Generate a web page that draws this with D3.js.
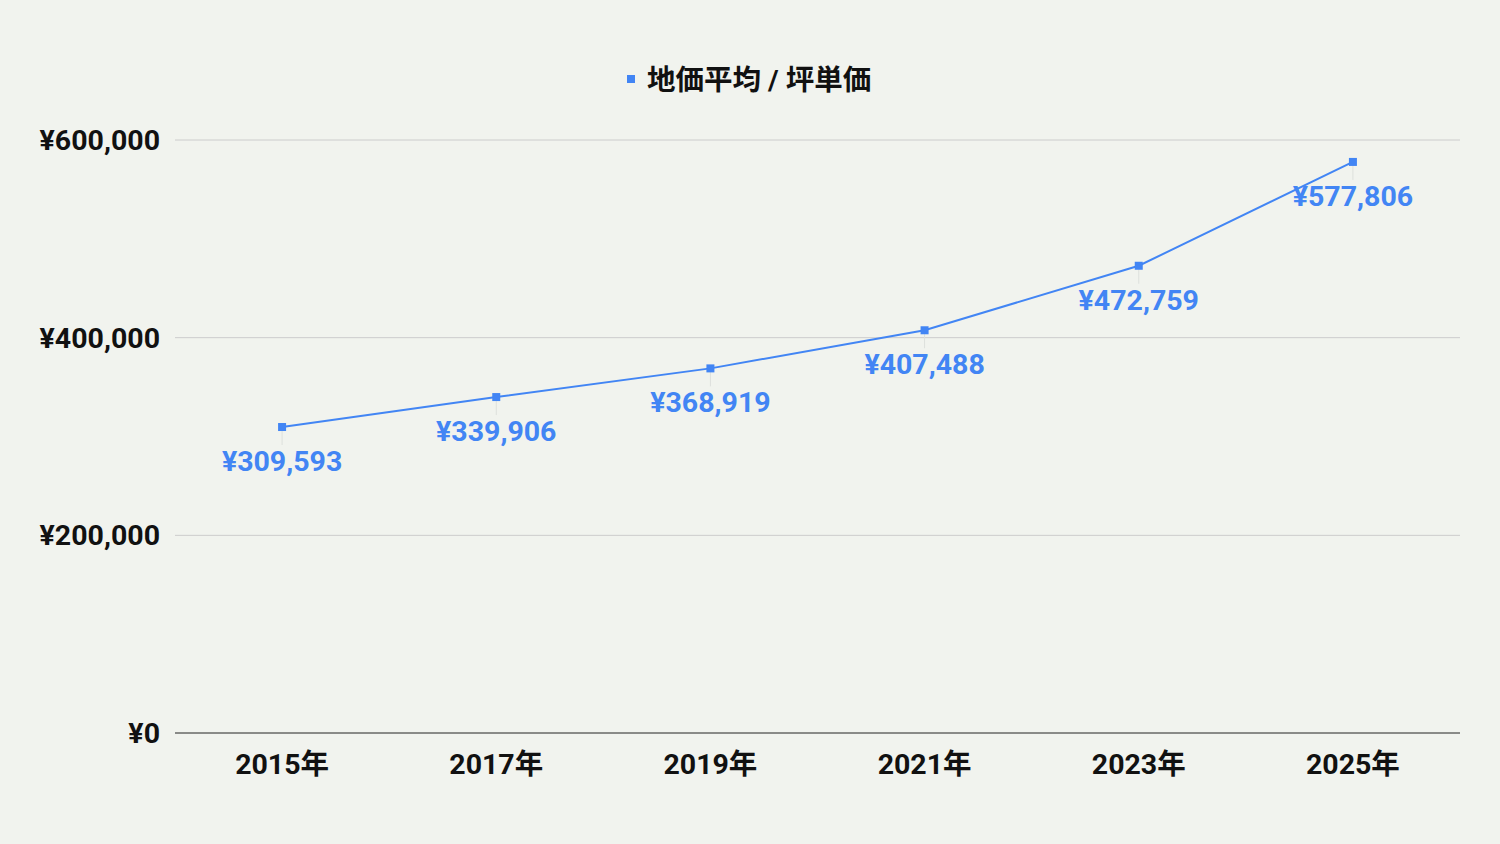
<!DOCTYPE html>
<html><head><meta charset="utf-8">
<script src="https://cdn.jsdelivr.net/npm/d3@7"></script>
<style>body{margin:0;background:#f1f3ee;font-family:Roboto,"Noto Sans CJK JP",sans-serif}</style>
</head><body><svg id="c" width="1500" height="844"></svg>
<script>
const categories=["2015年","2017年","2019年","2021年","2023年","2025年"];
const values=[309593,339906,368919,407488,472759,577806];
const yTicks=[0,200000,400000,600000];
const seriesName="地価平均 / 坪単価";
const color="#4285f4";
const svg=d3.select("#c");
svg.append("rect").attr("width",1500).attr("height",844).attr("fill","#f1f3ee");
const x=d3.scalePoint().domain(categories).range([175,1460]).padding(0.5);
const y=d3.scaleLinear().domain([0,600000]).range([733,140]);
const fmt=v=>"¥"+d3.format(",")(v);
svg.append("g").selectAll("line").data(yTicks.filter(d=>d>0)).join("line")
 .attr("x1",175).attr("x2",1460).attr("y1",d=>y(d)).attr("y2",d=>y(d)).attr("stroke","#cccccc");
svg.append("line").attr("x1",175).attr("x2",1460).attr("y1",y(0)).attr("y2",y(0)).attr("stroke","#222");
svg.append("g").selectAll("text").data(yTicks).join("text")
 .attr("x",160).attr("y",d=>y(d)).attr("dy","0.35em").attr("text-anchor","end")
 .attr("font-size",28.5).attr("font-weight","bold").attr("fill","#111").text(fmt);
svg.append("g").selectAll("text").data(categories).join("text")
 .attr("x",d=>x(d)).attr("y",764).attr("dy","0.35em").attr("text-anchor","middle")
 .attr("font-size",28.5).attr("font-weight","bold").attr("fill","#111").text(d=>d);
const pts=categories.map((c,i)=>[x(c),y(values[i])]);
svg.append("g").selectAll("line").data(pts).join("line")
 .attr("x1",d=>d[0]).attr("x2",d=>d[0]).attr("y1",d=>d[1]).attr("y2",d=>d[1]+18).attr("stroke","#dde0dc");
svg.append("path").attr("d",d3.line()(pts)).attr("fill","none").attr("stroke",color).attr("stroke-width",2);
svg.append("g").selectAll("rect").data(pts).join("rect")
 .attr("x",d=>d[0]-4).attr("y",d=>d[1]-4).attr("width",8).attr("height",8).attr("fill",color);
svg.append("g").selectAll("text").data(values).join("text")
 .attr("x",(d,i)=>x(categories[i])).attr("y",d=>y(d)+34).attr("dy","0.35em").attr("text-anchor","middle")
 .attr("font-size",28.5).attr("font-weight","bold").attr("fill",color).text(fmt);
svg.append("rect").attr("x",627).attr("y",75).attr("width",8).attr("height",8).attr("fill",color);
svg.append("text").attr("x",647).attr("y",80).attr("dy","0.35em").attr("font-size",28.5).attr("font-weight","bold").attr("fill","#111").text(seriesName);
</script></body></html>
